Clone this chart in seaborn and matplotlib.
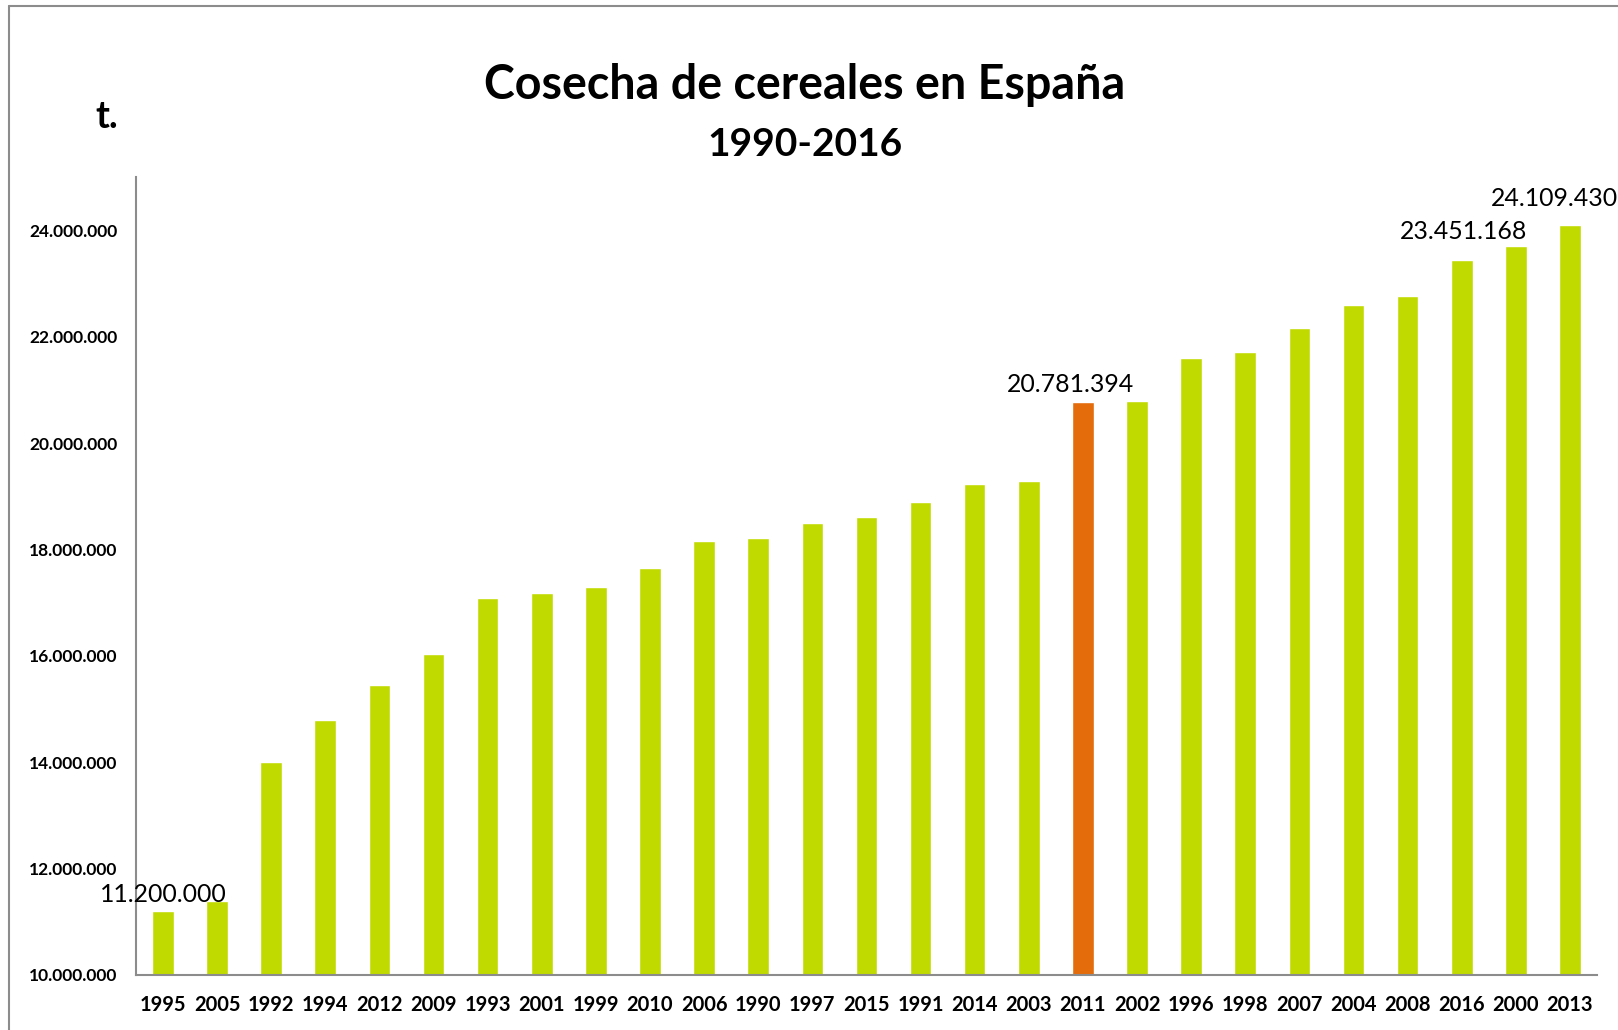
import matplotlib
matplotlib.use("Agg")
import matplotlib.pyplot as plt
import seaborn as sns
import pandas as pd
from matplotlib.lines import Line2D

# ---- data ----
years = ["1995", "2005", "1992", "1994", "2012", "2009", "1993", "2001", "1999",
         "2010", "2006", "1990", "1997", "2015", "1991", "2014", "2003", "2011",
         "2002", "1996", "1998", "2007", "2004", "2008", "2016", "2000", "2013"]
harvest = [11200000, 11400000, 14000000, 14800000, 15460000, 16040000, 17100000,
           17180000, 17300000, 17650000, 18160000, 18210000, 18500000, 18620000,
           18890000, 19240000, 19300000, 20781394, 20800000, 21610000, 21710000,
           22170000, 22600000, 22780000, 23451168, 23710000, 24109430]
highlight_year = "2011"
labelled_years = ["1995", "2011", "2016", "2013"]
label_texts = ["11.200.000", "20.781.394", "23.451.168", "24.109.430"]
ytick_vals = [10000000, 12000000, 14000000, 16000000, 18000000, 20000000,
              22000000, 24000000]
ytick_labels = ["10.000.000", "12.000.000", "14.000.000", "16.000.000",
                "18.000.000", "20.000.000", "22.000.000", "24.000.000"]
title = "Cosecha de cereales en España"
subtitle = "1990-2016"
unit = "t."

GREEN = "#C0DA00"
ORANGE = "#E46C0A"

sns.set_theme(style="white")
plt.rcParams["font.family"] = ["Lato", "DejaVu Sans"]
plt.rcParams["text.color"] = "black"
plt.rcParams["xtick.color"] = "black"
plt.rcParams["ytick.color"] = "black"

df = pd.DataFrame({"year": years, "value": harvest})
palette = {y: (ORANGE if y == highlight_year else GREEN) for y in years}

fig = plt.figure(figsize=(16.18, 10.30), dpi=100)
ax = fig.add_axes([0.084, 0.0534, 0.903, 0.7743])

sns.barplot(data=df, x="year", y="value", hue="year", palette=palette,
            order=years, hue_order=years, legend=False, width=0.4,
            saturation=1, ax=ax)

ax.set_ylim(10000000, 25000000)
ax.set_xlim(-0.5, len(years) - 0.5)
ax.set_yticks(ytick_vals)
ax.set_yticklabels(ytick_labels, fontsize=12.5, fontweight="bold", color="black")
ax.tick_params(axis="y", length=0, pad=13.5, labelcolor="black")
ax.tick_params(axis="x", length=0, pad=14.5, labelcolor="black")
for lbl in ax.get_xticklabels():
    lbl.set_fontsize(14.5)
    lbl.set_fontweight("bold")
    lbl.set_color("black")
ax.set_xlabel("")
ax.set_ylabel("")
for s in ["top", "right"]:
    ax.spines[s].set_visible(False)
for s in ["left", "bottom"]:
    ax.spines[s].set_color("#8c8c8c")
    ax.spines[s].set_linewidth(1.5)

# data labels
offsets = {"1995": (0, 4), "2011": (-9, 4), "2016": (1, 12), "2013": (-11, 11)}
for yr, txt in zip(labelled_years, label_texts):
    i = years.index(yr)
    ax.annotate(txt, xy=(i, harvest[i]), xytext=offsets[yr],
                textcoords="offset points", ha="center", va="bottom",
                fontsize=17.9, color="black", annotation_clip=False)

fig.text(0.4975, 0.917, title, ha="center", va="center", fontsize=33.6,
         fontweight="bold", color="black")
fig.text(0.4975, 0.860, subtitle, ha="center", va="center", fontsize=28,
         fontweight="bold", color="black")
fig.text(0.066, 0.886, unit, ha="center", va="center", fontsize=27,
         fontweight="bold", color="black")

# outer frame (top & left visible)
fig.add_artist(Line2D([0.0053, 0.0053], [0.0, 0.9945], transform=fig.transFigure,
                      color="#8c8c8c", lw=1.5))
fig.add_artist(Line2D([0.0053, 1.0], [0.9945, 0.9945], transform=fig.transFigure,
                      color="#8c8c8c", lw=1.5))

fig.savefig("out.png", dpi=100, facecolor="white")
